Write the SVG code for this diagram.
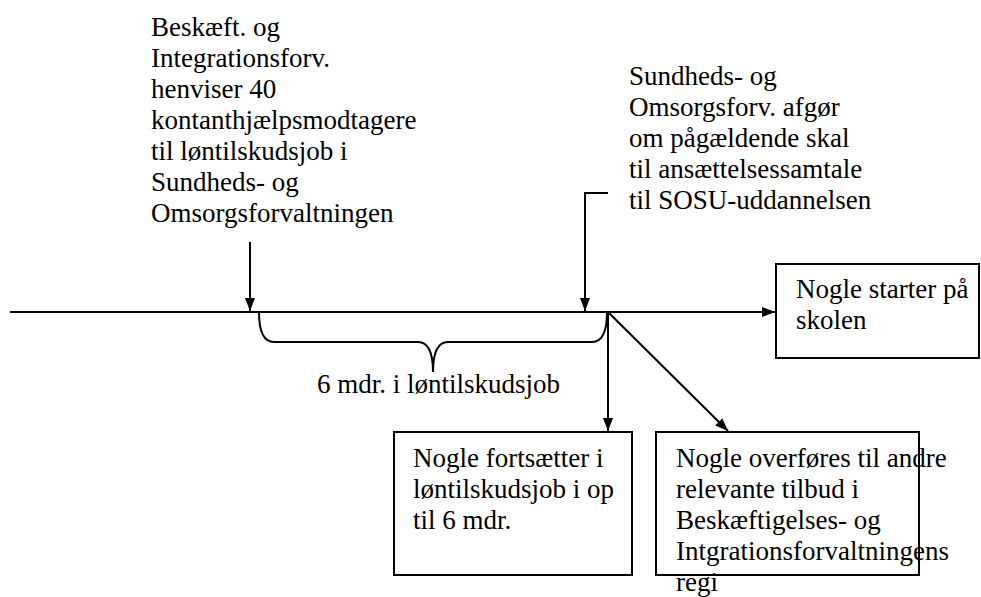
<svg xmlns="http://www.w3.org/2000/svg" width="981" height="597" viewBox="0 0 981 597">
<style>
  .ln { stroke: #000; stroke-width: 2; fill: none; }
  .box { stroke: #000; stroke-width: 2; fill: #fff; }
</style>
<defs>
  <marker id="ah" markerWidth="12" markerHeight="13" refX="13" refY="6" orient="auto" markerUnits="userSpaceOnUse">
    <path d="M0,1 L13,6 L0,11 Z" fill="#000"/>
  </marker>
</defs>
<rect width="981" height="597" fill="#fff"/>
<g id="connectors">
  <line class="ln" x1="10" y1="312" x2="775" y2="312" marker-end="url(#ah)"/>
  <line class="ln" x1="250" y1="242" x2="250" y2="311" marker-end="url(#ah)"/>
  <polyline class="ln" points="608,193 585,193 585,311" marker-end="url(#ah)"/>
  <line class="ln" x1="608" y1="312" x2="608" y2="431" marker-end="url(#ah)"/>
  <line class="ln" x1="608" y1="312" x2="728" y2="431" marker-end="url(#ah)"/>
  <path class="ln" d="M259,312 Q259,342 274,342 L418,342 Q433,342 433,372 Q433,342 448,342 L592,342 Q607,342 607,312"/>
</g>
<g font-family="Liberation Serif, serif" font-size="27" fill="#000">
<g id="label-beskaeft">
  <text x="151" y="36">Beskæft. og</text>
  <text x="151" y="67">Integrationsforv.</text>
  <text x="151" y="98">henviser 40</text>
  <text x="151" y="129">kontanthjælpsmodtagere</text>
  <text x="151" y="160">til løntilskudsjob i</text>
  <text x="151" y="191">Sundheds- og</text>
  <text x="151" y="222">Omsorgsforvaltningen</text>
</g>
<g id="label-sundheds">
  <text x="629" y="85">Sundheds- og</text>
  <text x="629" y="116">Omsorgsforv. afgør</text>
  <text x="629" y="147">om pågældende skal</text>
  <text x="629" y="178">til ansættelsessamtale</text>
  <text x="629" y="209">til SOSU-uddannelsen</text>
</g>
<g id="label-brace">
  <text x="317" y="393">6 mdr. i løntilskudsjob</text>
</g>
<g id="node-skolen">
  <rect class="box" x="776" y="264" width="203" height="94"/>
  <text x="796" y="298">Nogle starter på</text>
  <text x="796" y="329">skolen</text>
</g>
<g id="node-fortsaetter">
  <rect class="box" x="394" y="432" width="238" height="143"/>
  <text x="413" y="467">Nogle fortsætter i</text>
  <text x="413" y="498">løntilskudsjob i op</text>
  <text x="413" y="529">til 6 mdr.</text>
</g>
<g id="node-overfoeres">
  <rect class="box" x="656" y="432" width="263" height="143"/>
  <text x="676" y="467">Nogle overføres til andre</text>
  <text x="676" y="498">relevante tilbud i</text>
  <text x="676" y="529">Beskæftigelses- og</text>
  <text x="676" y="560">Intgrationsforvaltningens</text>
  <text x="676" y="591">regi</text>
</g>
</g>
</svg>
